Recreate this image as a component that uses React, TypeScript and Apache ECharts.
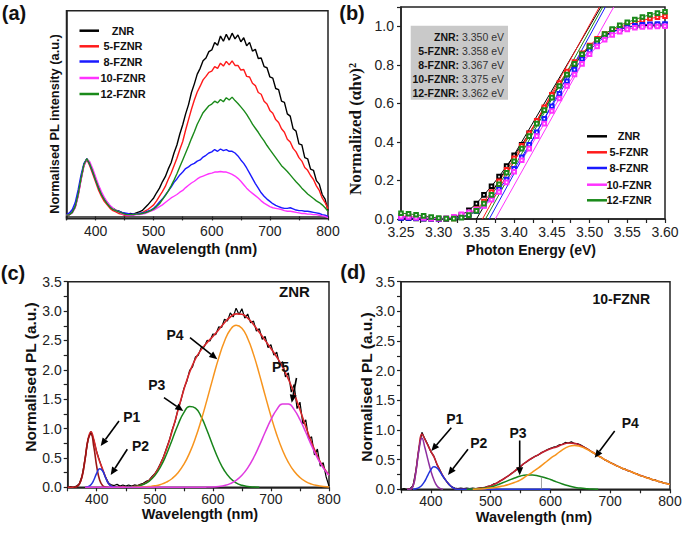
import React, { useEffect, useRef } from "react";
import * as echarts from "echarts";

// ---------- Panel (a): PL spectra, 350-800 nm every 5 nm ----------
const WL: number[] = Array.from({ length: 91 }, (_, i) => 350 + 5 * i);

const A_ZNR = [
  0.02, 0.03, 0.08, 0.17, 0.38, 0.66, 0.9, 1.0, 0.92, 0.79,
  0.65, 0.52, 0.4, 0.31, 0.24, 0.18, 0.14, 0.11, 0.09, 0.07,
  0.05, 0.04, 0.05, 0.04, 0.06, 0.08, 0.1, 0.15, 0.2, 0.26,
  0.32, 0.41, 0.49, 0.6, 0.69, 0.82, 0.93, 1.1, 1.24, 1.43,
  1.59, 1.78, 1.94, 2.15, 2.3, 2.47, 2.57, 2.7, 2.75, 2.86,
  2.89, 3.02, 2.97, 3.13, 3.04, 3.16, 3.06, 3.18, 3.08, 3.15,
  3.03, 3.1, 2.96, 3.02, 2.87, 2.9, 2.74, 2.75, 2.6, 2.58,
  2.42, 2.4, 2.22, 2.2, 2.0, 1.98, 1.78, 1.74, 1.52, 1.48,
  1.26, 1.24, 1.02, 1.0, 0.82, 0.8, 0.62, 0.56, 0.38, 0.3,
  0.1,
];
const A_5FZNR = [
  0.02, 0.03, 0.07, 0.16, 0.36, 0.64, 0.88, 0.99, 0.88, 0.74,
  0.6, 0.46, 0.35, 0.26, 0.2, 0.14, 0.1, 0.08, 0.05, 0.04,
  0.02, 0.01, 0.02, 0.03, 0.04, 0.05, 0.06, 0.09, 0.12, 0.16,
  0.2, 0.27, 0.35, 0.43, 0.52, 0.64, 0.75, 0.88, 1.01, 1.16,
  1.3, 1.5, 1.68, 1.86, 2.02, 2.16, 2.26, 2.37, 2.43, 2.5,
  2.52, 2.6, 2.57, 2.66, 2.61, 2.69, 2.63, 2.7, 2.62, 2.62,
  2.54, 2.55, 2.43, 2.42, 2.31, 2.27, 2.15, 2.12, 2.0, 1.95,
  1.84, 1.79, 1.68, 1.63, 1.52, 1.46, 1.34, 1.29, 1.18, 1.12,
  1.02, 0.96, 0.85, 0.8, 0.71, 0.64, 0.53, 0.45, 0.32, 0.24,
  0.13,
];
const A_8FZNR = [
  0.03, 0.06, 0.12, 0.24, 0.46, 0.72, 0.92, 1.0, 0.9, 0.77,
  0.63, 0.5, 0.39, 0.3, 0.23, 0.17, 0.13, 0.1, 0.09, 0.07,
  0.06, 0.05, 0.04, 0.04, 0.04, 0.05, 0.06, 0.07, 0.09, 0.11,
  0.14, 0.19, 0.25, 0.3, 0.37, 0.44, 0.51, 0.59, 0.65, 0.72,
  0.77, 0.83, 0.86, 0.9, 0.92, 0.96, 0.98, 1.03, 1.06, 1.1,
  1.12, 1.16, 1.13, 1.17, 1.14, 1.16, 1.13, 1.13, 1.1, 1.05,
  0.98, 0.92, 0.84, 0.75, 0.66, 0.57, 0.49, 0.41, 0.35, 0.3,
  0.26, 0.22, 0.19, 0.17, 0.15, 0.14, 0.14, 0.15, 0.13, 0.11,
  0.1, 0.1, 0.09, 0.09, 0.08, 0.07, 0.06, 0.05, 0.03, 0.02,
  0.0,
];
const A_10FZNR = [
  0.02, 0.03, 0.06, 0.15, 0.35, 0.63, 0.88, 0.99, 0.95, 0.83,
  0.69, 0.55, 0.43, 0.33, 0.25, 0.19, 0.14, 0.1, 0.08, 0.05,
  0.03, 0.02, 0.02, 0.02, 0.03, 0.03, 0.04, 0.05, 0.07, 0.09,
  0.11, 0.14, 0.17, 0.2, 0.24, 0.28, 0.32, 0.35, 0.38, 0.42,
  0.45, 0.5, 0.54, 0.58, 0.61, 0.65, 0.68, 0.7, 0.72, 0.74,
  0.75, 0.77, 0.77, 0.78, 0.77, 0.77, 0.75, 0.73, 0.7, 0.66,
  0.61, 0.55, 0.49, 0.44, 0.4, 0.36, 0.32, 0.27, 0.23, 0.2,
  0.17, 0.15, 0.14, 0.13, 0.12, 0.1, 0.09, 0.09, 0.08, 0.07,
  0.06, 0.05, 0.05, 0.04, 0.04, 0.03, 0.03, 0.02, 0.01, 0.0,
  -0.02,
];
const A_12FZNR = [
  0.02, 0.03, 0.07, 0.17, 0.38, 0.66, 0.9, 1.0, 0.91, 0.78,
  0.63, 0.5, 0.38, 0.29, 0.22, 0.16, 0.12, 0.1, 0.08, 0.06,
  0.04, 0.03, 0.03, 0.03, 0.04, 0.04, 0.05, 0.06, 0.08, 0.1,
  0.13, 0.17, 0.22, 0.29, 0.36, 0.44, 0.53, 0.63, 0.74, 0.86,
  0.98, 1.1, 1.22, 1.35, 1.47, 1.6, 1.7, 1.8, 1.86, 1.92,
  1.95, 2.0, 1.97, 2.03, 1.99, 2.06, 2.02, 2.07, 2.01, 1.96,
  1.9, 1.84, 1.77, 1.69, 1.6, 1.53, 1.46, 1.38, 1.31, 1.23,
  1.16, 1.09, 1.02, 0.95, 0.88, 0.83, 0.78, 0.72, 0.66, 0.6,
  0.55, 0.49, 0.44, 0.39, 0.35, 0.31, 0.27, 0.24, 0.2, 0.15,
  0.09,
];

// ---------- Panel (b): Tauc plots, 3.25-3.60 eV every 0.01 eV ----------
const EV: number[] = Array.from({ length: 36 }, (_, i) => Math.round((3.25 + 0.01 * i) * 100) / 100);
const B_ZNR = [
  0.005, 0.004, 0.003, 0.002, 0.001, 0.0, 0.002, 0.008, 0.02, 0.045,
  0.08, 0.125, 0.17, 0.22, 0.275, 0.33, 0.385, 0.445, 0.505, 0.57,
  0.635, 0.695, 0.75, 0.8, 0.85, 0.89, 0.925, 0.952, 0.972, 0.985,
  0.995, 1.0, 1.003, 1.005, 1.006, 1.006,
];
const B_5FZNR = [
  0.015, 0.012, 0.009, 0.006, 0.003, 0.001, 0.0, 0.003, 0.01, 0.025,
  0.05, 0.09, 0.14, 0.195, 0.255, 0.315, 0.38, 0.445, 0.51, 0.58,
  0.645, 0.705, 0.765, 0.815, 0.86, 0.9, 0.935, 0.96, 0.98, 0.995,
  1.008, 1.02, 1.03, 1.04, 1.047, 1.052,
];
const B_8FZNR = [
  0.006, 0.005, 0.004, 0.003, 0.001, 0.0, 0.001, 0.004, 0.01, 0.022,
  0.04, 0.07, 0.11, 0.155, 0.205, 0.26, 0.32, 0.385, 0.45, 0.52,
  0.585, 0.65, 0.715, 0.775, 0.83, 0.875, 0.915, 0.945, 0.968, 0.985,
  0.996, 1.003, 1.008, 1.01, 1.012, 1.012,
];
const B_10FZNR = [
  0.012, 0.01, 0.007, 0.005, 0.003, 0.001, 0.004, 0.012, 0.025, 0.035,
  0.048, 0.068, 0.1, 0.14, 0.19, 0.245, 0.305, 0.365, 0.43, 0.495,
  0.56, 0.625, 0.69, 0.75, 0.805, 0.855, 0.895, 0.93, 0.955, 0.972,
  0.984, 0.992, 0.996, 0.998, 0.999, 1.0,
];
const B_12FZNR = [
  0.03, 0.027, 0.022, 0.016, 0.01, 0.005, 0.002, 0.002, 0.007, 0.02,
  0.042, 0.08, 0.125, 0.18, 0.24, 0.3, 0.365, 0.43, 0.495, 0.565,
  0.63, 0.69, 0.75, 0.805, 0.855, 0.895, 0.93, 0.96, 0.985, 1.005,
  1.02, 1.035, 1.048, 1.06, 1.068, 1.075,
];
// band-gap intercepts (eV) and where each linear fit reaches 1.1
const B_EG = [3.35, 3.358, 3.367, 3.375, 3.362];
const B_TOP = [3.515, 3.513, 3.521, 3.532, 3.5175];
const B_NAMES = ["ZNR", "5-FZNR", "8-FZNR", "10-FZNR", "12-FZNR"];
const B_EG_TEXT = ["3.350 eV", "3.358 eV", "3.367 eV", "3.375 eV", "3.362 eV"];

// ---------- Panel (c): ZNR deconvolution ----------
const C_DATA = [
  0.0, 0.01, 0.0, 0.02, 0.06, 0.2, 0.49, 0.82, 0.95, 0.8,
  0.6, 0.45, 0.3, 0.18, 0.08, 0.04, 0.03, 0.05, 0.02, 0.04,
  0.02, 0.04, 0.02, 0.04, 0.03, 0.05, 0.07, 0.1, 0.12, 0.18,
  0.23, 0.31, 0.41, 0.52, 0.66, 0.8, 0.98, 1.12, 1.33, 1.48,
  1.68, 1.8, 1.99, 2.05, 2.22, 2.25, 2.38, 2.39, 2.5, 2.49,
  2.61, 2.6, 2.73, 2.72, 2.86, 2.83, 2.97, 2.9, 3.05, 2.94,
  3.04, 2.88, 2.95, 2.8, 2.83, 2.66, 2.7, 2.52, 2.57, 2.38,
  2.43, 2.25, 2.3, 2.08, 2.14, 1.88, 1.95, 1.62, 1.75, 1.34,
  1.45, 1.08, 1.15, 0.82, 0.86, 0.55, 0.65, 0.36, 0.42, 0.18,
  0.02,
];
const C_FIT = [
  [350, 0], [355, 0], [360, 0.001], [365, 0.01], [370, 0.054], [375, 0.197], [380, 0.485],
  [385, 0.813], [390, 0.946], [395, 0.811], [400, 0.596], [405, 0.44], [410, 0.311],
  [415, 0.175], [420, 0.069], [425, 0.019], [430, 0.004], [440, 0.001], [450, 0.003],
  [460, 0.009], [470, 0.023], [480, 0.054], [490, 0.115], [500, 0.224], [510, 0.398],
  [520, 0.646], [530, 0.961], [540, 1.314], [550, 1.661], [560, 1.96], [570, 2.186],
  [580, 2.344], [590, 2.463], [600, 2.568], [610, 2.683], [620, 2.8], [630, 2.899],
  [640, 2.952], [650, 2.946], [660, 2.879], [670, 2.77], [680, 2.638], [690, 2.501],
  [700, 2.364], [710, 2.219], [720, 2.05], [730, 1.843], [740, 1.595], [750, 1.319],
  [760, 1.033], [770, 0.763], [780, 0.531], [790, 0.346], [800, 0.211],
];
const C_P1 = [
  [360, 0.001], [365, 0.01], [370, 0.054], [375, 0.197], [380, 0.483], [385, 0.803],
  [390, 0.903], [395, 0.687], [400, 0.354], [405, 0.123], [410, 0.029], [415, 0.005], [420, 0],
];
const C_P2 = [
  [380, 0.002], [385, 0.01], [390, 0.043], [395, 0.124], [400, 0.242], [405, 0.317],
  [410, 0.282], [415, 0.17], [420, 0.069], [425, 0.019], [430, 0.004], [435, 0],
];
const C_P3 = [
  [450, 0.003], [460, 0.008], [470, 0.02], [480, 0.048], [490, 0.102], [500, 0.199],
  [510, 0.35], [520, 0.559], [530, 0.811], [540, 1.066], [550, 1.271], [560, 1.374],
  [570, 1.347], [580, 1.198], [590, 0.967], [600, 0.707], [610, 0.469], [620, 0.282],
  [630, 0.154], [640, 0.076], [650, 0.034], [660, 0.014], [670, 0.005], [680, 0.002],
];
const C_P4 = [
  [460, 0.001], [470, 0.003], [480, 0.006], [490, 0.013], [500, 0.025], [510, 0.048],
  [520, 0.087], [530, 0.15], [540, 0.248], [550, 0.39], [560, 0.586], [570, 0.839],
  [580, 1.146], [590, 1.493], [600, 1.855], [610, 2.199], [620, 2.487], [630, 2.682],
  [640, 2.759], [650, 2.708], [660, 2.534], [670, 2.263], [680, 1.927], [690, 1.565],
  [700, 1.212], [710, 0.896], [720, 0.632], [730, 0.425], [740, 0.272], [750, 0.167],
  [760, 0.097], [770, 0.054], [780, 0.029], [790, 0.015], [800, 0.007],
];
const C_P5 = [
  [380, 0], [450, 0], [520, 0], [560, 0], [580, 0.001], [590, 0.003], [600, 0.006],
  [610, 0.015], [620, 0.031], [630, 0.063], [640, 0.117], [650, 0.204], [660, 0.331],
  [670, 0.502], [680, 0.709], [690, 0.936], [700, 1.152], [710, 1.323], [720, 1.418],
  [730, 1.418], [740, 1.323], [750, 1.152], [760, 0.936], [770, 0.709], [780, 0.502],
  [790, 0.331], [800, 0.204],
];

// ---------- Panel (d): 10-FZNR deconvolution ----------
const D_DATA = [
  0.0, 0.01, 0.0, 0.01, 0.06, 0.32, 0.7, 0.96, 0.85, 0.75,
  0.63, 0.56, 0.42, 0.33, 0.22, 0.15, 0.08, 0.04, 0.02, 0.01,
  0.02, 0.01, 0.02, 0.01, 0.02, 0.01, 0.02, 0.03, 0.03, 0.05,
  0.06, 0.09, 0.1, 0.14, 0.16, 0.2, 0.23, 0.27, 0.3, 0.35,
  0.38, 0.43, 0.46, 0.5, 0.53, 0.56, 0.58, 0.62, 0.64, 0.67,
  0.69, 0.71, 0.72, 0.75, 0.76, 0.79, 0.78, 0.8, 0.77, 0.77,
  0.75, 0.72, 0.69, 0.66, 0.62, 0.6, 0.56, 0.54, 0.5, 0.48,
  0.45, 0.43, 0.4, 0.38, 0.35, 0.34, 0.31, 0.3, 0.27, 0.26,
  0.23, 0.22, 0.2, 0.19, 0.16, 0.16, 0.13, 0.13, 0.1, 0.1,
  0.08,
];
const D_FIT = [
  [360, 0], [365, 0], [370, 0.05], [375, 0.31], [380, 0.69], [385, 0.93], [390, 0.84],
  [395, 0.74], [400, 0.64], [405, 0.55], [410, 0.43], [415, 0.32], [420, 0.23],
  [425, 0.15], [430, 0.09], [435, 0.04], [440, 0.01], [450, 0], [460, 0.001],
  [470, 0.003], [480, 0.015], [490, 0.03], [500, 0.06], [510, 0.105], [520, 0.165],
  [530, 0.23], [540, 0.305], [550, 0.385], [560, 0.465], [570, 0.53], [580, 0.585],
  [590, 0.64], [600, 0.685], [610, 0.715], [620, 0.755], [630, 0.78], [640, 0.775],
  [650, 0.74], [660, 0.69], [670, 0.628], [680, 0.565], [690, 0.505], [700, 0.45],
  [710, 0.4], [720, 0.355], [730, 0.315], [740, 0.275], [750, 0.235], [760, 0.2],
  [770, 0.165], [780, 0.135], [790, 0.105], [800, 0.08],
];
const D_P1 = [
  [360, 0], [365, 0], [370, 0.05], [375, 0.3], [380, 0.66], [385, 0.86], [390, 0.7],
  [395, 0.5], [400, 0.31], [405, 0.16], [410, 0.06], [415, 0.015], [420, 0],
];
const D_P2 = [
  [370, 0], [375, 0.01], [380, 0.03], [385, 0.07], [390, 0.14], [395, 0.24], [400, 0.33],
  [405, 0.38], [410, 0.36], [415, 0.3], [420, 0.22], [425, 0.15], [430, 0.09],
  [435, 0.04], [440, 0.01], [445, 0], [520, 0], [600, 0],
];
const D_P3 = [
  [460, 0], [470, 0.003], [480, 0.01], [490, 0.02], [500, 0.04], [510, 0.07], [520, 0.11],
  [530, 0.15], [540, 0.19], [550, 0.225], [560, 0.24], [570, 0.24], [580, 0.225],
  [590, 0.2], [600, 0.165], [610, 0.125], [620, 0.09], [630, 0.06], [640, 0.035],
  [650, 0.02], [660, 0.01], [670, 0.003], [680, 0],
];
const D_P4 = [
  [470, 0], [480, 0.005], [490, 0.01], [500, 0.02], [510, 0.035], [520, 0.055],
  [530, 0.08], [540, 0.115], [550, 0.16], [560, 0.225], [570, 0.29], [580, 0.36],
  [590, 0.44], [600, 0.52], [610, 0.59], [620, 0.665], [630, 0.72], [640, 0.74],
  [650, 0.72], [660, 0.68], [670, 0.625], [680, 0.565], [690, 0.505], [700, 0.45],
  [710, 0.4], [720, 0.355], [730, 0.315], [740, 0.275], [750, 0.235], [760, 0.2],
  [770, 0.165], [780, 0.135], [790, 0.105], [800, 0.08],
];
const D_MARK = [[585, 0], [585, 0.213]];

// ---------- styling ----------
const FF = '"Liberation Sans", Arial, Helvetica, sans-serif';
const SERIF = '"Liberation Serif", "Times New Roman", serif';
const COLORS = ["#000000", "#ff1a1a", "#1a1aff", "#ff33ff", "#1a8a1a"];
const C_FITC = "#d8262a";
const P_COL = { p1c: "#9a1515", p1d: "#8e2fa0", p2: "#2233dd", p3: "#17841a", p4: "#f7941d", p5: "#e03be0" };

const pairs = (xs: number[], ys: number[]) => xs.map((x, i) => [x, ys[i]]);

function App() {
  const ref = useRef<HTMLDivElement>(null);
  useEffect(() => {
    if (!ref.current) return;
    const chart = echarts.init(ref.current, undefined, { renderer: "svg" });

    const axisLine = { show: true, lineStyle: { color: "#222", width: 1.5 } };
    const axisTick = { show: true, inside: false, length: 4, lineStyle: { color: "#222", width: 1.2 } };
    const lbl = { color: "#222", fontSize: 14, fontFamily: FF };
    const grid = (left: number, top: number, width: number, height: number) => ({
      left, top, width, height, show: true, borderColor: "#222", borderWidth: 1.5,
      backgroundColor: "transparent", containLabel: false,
    });
    const wlAxis = (gi: number) => ({
      type: "value", gridIndex: gi, min: 350, max: 800, interval: 50,
      axisLine, axisTick, splitLine: { show: false },
      axisLabel: { ...lbl, margin: 5, formatter: (v: number) => (v % 100 === 0 ? String(v) : "") },
    });
    const plAxis = (gi: number) => ({
      type: "value", gridIndex: gi, min: 0, max: 3.5, interval: 0.25,
      axisLine, axisTick, splitLine: { show: false },
      axisLabel: { ...lbl, margin: 6, formatter: (v: number) => (Math.round(v * 100) % 50 === 0 ? v.toFixed(1) : "") },
    });

    const line = (xi: number, data: any[], color: string, width: number, extra: any = {}) => ({
      type: "line", xAxisIndex: xi, yAxisIndex: xi, data, showSymbol: false, symbol: "none",
      lineStyle: { color, width }, itemStyle: { color }, silent: true, ...extra,
    });

    const series: any[] = [];
    // (a)
    [A_ZNR, A_5FZNR, A_8FZNR, A_10FZNR, A_12FZNR].forEach((arr, i) => {
      series.push(line(0, pairs(WL, arr), COLORS[i], 1.4));
    });
    // (b)
    [B_ZNR, B_5FZNR, B_8FZNR, B_10FZNR, B_12FZNR].forEach((arr, i) => {
      series.push({
        type: "line", xAxisIndex: 1, yAxisIndex: 1, data: pairs(EV, arr), silent: true,
        symbol: "emptyRect", symbolSize: 3.6, showSymbol: true,
        lineStyle: { color: COLORS[i], width: 1 }, itemStyle: { color: COLORS[i], borderColor: COLORS[i], borderWidth: 0.8 },
      });
    });
    B_EG.forEach((eg, i) => {
      series.push(line(1, [[eg, 0], [B_TOP[i], 1.1]], COLORS[i], 1));
    });
    // (c)
    series.push(line(2, pairs(WL, C_DATA), "#000", 1.2));
    series.push(line(2, C_FIT, C_FITC, 1.6, { smooth: true }));
    series.push(line(2, C_P1, P_COL.p1c, 1.6, { smooth: true }));
    series.push(line(2, C_P2, P_COL.p2, 1.5, { smooth: true }));
    series.push(line(2, C_P3, P_COL.p3, 1.5, { smooth: true }));
    series.push(line(2, C_P4, P_COL.p4, 1.5, { smooth: true }));
    series.push(line(2, C_P5, P_COL.p5, 1.5, { smooth: true }));
    // (d)
    series.push(line(3, pairs(WL, D_DATA), "#000", 1.2));
    series.push(line(3, D_FIT, "#c42030", 1.6, { smooth: true }));
    series.push(line(3, D_P1, P_COL.p1d, 1.5, { smooth: true }));
    series.push(line(3, D_P2, P_COL.p2, 1.5, { smooth: true }));
    series.push(line(3, D_P3, P_COL.p3, 1.5, { smooth: true }));
    series.push(line(3, D_P4, P_COL.p4, 1.5, { smooth: true }));
    series.push(line(3, D_MARK, "#888", 0.8));

    // ---------- graphic decorations ----------
    const txt = (x: number, y: number, text: string, size: number, o: any = {}) => ({
      type: "text", x, y, rotation: o.rot || 0, z: 100,
      style: {
        text, fontSize: size, fontWeight: o.weight || "bold", fontFamily: o.font || FF,
        fill: o.fill || "#111", align: o.align || "center", verticalAlign: "middle",
        textAlign: o.align || "center", rich: o.rich,
      },
    });
    const arrow = (x1: number, y1: number, x2: number, y2: number) => {
      const a = Math.atan2(y2 - y1, x2 - x1);
      const L = 8, W = 3.5;
      const bx = x2 - L * Math.cos(a), by = y2 - L * Math.sin(a);
      const px = -Math.sin(a) * W, py = Math.cos(a) * W;
      return [
        { type: "line", z: 100, shape: { x1, y1, x2: bx, y2: by }, style: { stroke: "#000", lineWidth: 1.6 } },
        { type: "polygon", z: 100, shape: { points: [[x2, y2], [bx + px, by + py], [bx - px, by - py]] }, style: { fill: "#000" } },
      ];
    };
    const g: any[] = [];
    // panel labels
    g.push(txt(14, 13, "(a)", 20), txt(352, 13, "(b)", 20), txt(13, 273, "(c)", 20), txt(353, 272, "(d)", 20));
    // axis titles
    g.push(txt(197, 248.5, "Wavelength (nm)", 15));
    g.push(txt(54, 124, "Normalised PL intensity (a.u.)", 12.8, { rot: Math.PI / 2 }));
    g.push(txt(531, 249.5, "Photon Energy (eV)", 14));
    g.push(txt(355, 129, "Normalized (\u03b1h\u03bd)\u00b2", 17, { rot: Math.PI / 2, font: SERIF }));
    g.push(txt(200, 514, "Wavelength (nm)", 14.5));
    g.push(txt(30, 377, "Normalised PL (a.u.)", 15.5, { rot: Math.PI / 2 }));
    g.push(txt(534, 516.5, "Wavelength (nm)", 14.5));
    g.push(txt(366, 387, "Normalised PL (a.u.)", 15.5, { rot: Math.PI / 2 }));
    // legend (a)
    const aRows = [30.7, 46.3, 61.5, 78, 94];
    B_NAMES.forEach((n, i) => {
      g.push({ type: "line", z: 100, shape: { x1: 79.5, y1: aRows[i], x2: 99, y2: aRows[i] }, style: { stroke: COLORS[i], lineWidth: 2.5 } });
      g.push(txt(123, aRows[i], n, 11));
    });
    // legend (b)
    const bRows = [136.3, 152.3, 168, 184.7, 200.3];
    B_NAMES.forEach((n, i) => {
      g.push({ type: "line", z: 100, shape: { x1: 587, y1: bRows[i], x2: 607, y2: bRows[i] }, style: { stroke: COLORS[i], lineWidth: 2.5 } });
      g.push(txt(629, bRows[i], n, 11));
    });
    // gray box (b)
    g.push({ type: "rect", z: 90, shape: { x: 410.7, y: 25.7, width: 97.3, height: 74 }, style: { fill: "#c9c9c9" } });
    const boxRows = [37, 50.8, 65, 79, 93];
    B_NAMES.forEach((n, i) => {
      g.push(txt(504, boxRows[i], `{b|${n}:}{n| ${B_EG_TEXT[i]}}`, 10.5, {
        align: "right",
        rich: {
          b: { fontSize: 10.5, fontWeight: "bold", fontFamily: FF, fill: "#111" },
          n: { fontSize: 10.5, fontWeight: "normal", fontFamily: FF, fill: "#333" },
        },
      }));
    });
    // annotations (c)
    g.push(txt(294.5, 291.5, "ZNR", 15));
    g.push(txt(131.7, 416.7, "P1", 14), txt(140.5, 445.7, "P2", 14), txt(156.7, 385, "P3", 14), txt(175, 335, "P4", 14), txt(280.5, 366.7, "P5", 14));
    g.push(...arrow(119, 421, 100.7, 446), ...arrow(127.3, 449.3, 110.7, 475), ...arrow(164, 397.7, 183.3, 411),
      ...arrow(190, 337.7, 217.3, 359.3), ...arrow(296.5, 378, 291.7, 402.7));
    // annotations (d)
    g.push(txt(621.3, 299.3, "10-FZNR", 14));
    g.push(txt(454.7, 419.3, "P1", 14), txt(478.7, 442.7, "P2", 14), txt(518, 432.7, "P3", 14), txt(630.3, 422.7, "P4", 14));
    g.push(...arrow(451.3, 427.7, 431.3, 451), ...arrow(468, 449.3, 448, 475), ...arrow(519.7, 440.5, 519.7, 475.3),
      ...arrow(614.7, 431, 594.7, 457.7));

    chart.setOption({
      animation: false,
      backgroundColor: "#fff",
      textStyle: { fontFamily: FF },
      grid: [grid(66.5, 10.7, 261.5, 208), grid(401, 7, 264, 212), grid(67.7, 281.7, 261.3, 205.6), grid(401, 281.7, 269, 207.6)],
      xAxis: [
        wlAxis(0),
        {
          type: "value", gridIndex: 1, min: 3.25, max: 3.6, interval: 0.025,
          axisLine, axisTick, splitLine: { show: false },
          axisLabel: { ...lbl, margin: 6, formatter: (v: number) => (Math.round(v * 1000) % 50 === 0 ? v.toFixed(2) : "") },
        },
        wlAxis(2),
        wlAxis(3),
      ],
      yAxis: [
        {
          type: "value", gridIndex: 0, min: -0.04, max: 3.57,
          axisLine, axisTick: { show: false }, axisLabel: { show: false }, splitLine: { show: false },
        },
        {
          type: "value", gridIndex: 1, min: 0, max: 1.1, interval: 0.2,
          axisLine, axisTick, splitLine: { show: false },
          axisLabel: { ...lbl, margin: 7, formatter: (v: number) => (v > 1.05 ? "" : v.toFixed(1)) },
        },
        plAxis(2),
        plAxis(3),
      ],
      series,
      graphic: g,
    });
    return () => chart.dispose();
  }, []);
  return <div ref={ref} style={{ position: "absolute", left: 0, top: 0, width: 685, height: 533, background: "#fff" }} />;
}

export default App;
